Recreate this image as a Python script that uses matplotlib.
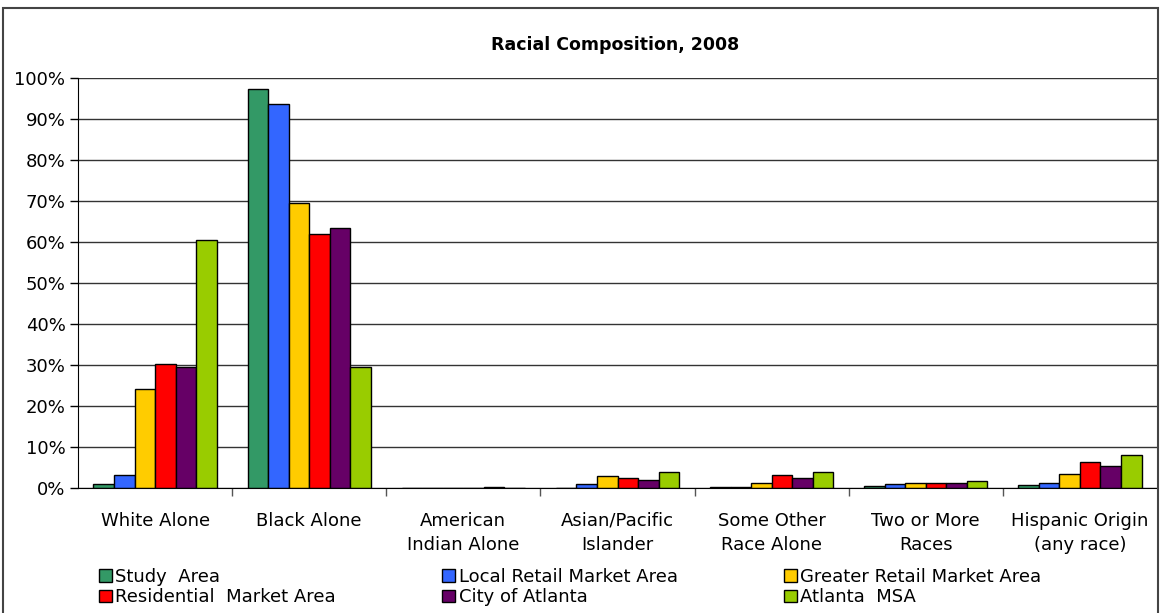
import numpy as np
import matplotlib.pyplot as plt
from matplotlib.patches import Rectangle
from matplotlib.ticker import FuncFormatter

plt.rcParams['font.family'] = ['DejaVu Sans']

# Categories and series (percent of population)
categories = ["White Alone", "Black Alone", "American\nIndian Alone", "Asian/Pacific\nIslander",
              "Some Other\nRace Alone", "Two or More\nRaces", "Hispanic Origin\n(any race)"]
series_names = ["Study  Area", "Local Retail Market Area", "Greater Retail Market Area",
                "Residential  Market Area", "City of Atlanta", "Atlanta  MSA"]
study_area = [1.0, 97.4, 0.1, 0.1, 0.3, 0.6, 0.9]
local_retail = [3.2, 93.8, 0.1, 1.0, 0.3, 1.0, 1.3]
greater_retail = [24.3, 69.6, 0.1, 2.9, 1.2, 1.2, 3.6]
residential = [30.2, 62.0, 0.1, 2.5, 3.2, 1.2, 6.4]
city_atlanta = [29.6, 63.6, 0.3, 2.0, 2.6, 1.2, 5.5]
atlanta_msa = [60.5, 29.5, 0.1, 3.9, 3.9, 1.9, 8.1]
colors = ["#339966", "#3366FF", "#FFCC00", "#FF0000", "#660066", "#99CC00"]

values = [study_area, local_retail, greater_retail, residential, city_atlanta, atlanta_msa]

fig = plt.figure(figsize=(11.7, 6.13), dpi=100)
ax = fig.add_axes([78 / 1170, 1 - 488.3 / 613, (1157 - 78) / 1170, (488.3 - 78.3) / 613])

x = np.arange(len(categories))
n = len(values)
w = 0.8 / n
handles = []
for i, (vals, c) in enumerate(zip(values, colors)):
    b = ax.bar(x - 0.4 + w * (i + 0.5), vals, w, color=c, edgecolor="black", linewidth=1, zorder=3)
    handles.append(b)

ax.set_xlim(-0.5, len(categories) - 0.5)
ax.set_ylim(0, 100)
ax.set_yticks(np.arange(0, 101, 10))
ax.yaxis.set_major_formatter(FuncFormatter(lambda v, p: f"{v:.0f}%"))
ax.grid(axis="y", color="#333333", linewidth=1, zorder=0)
ax.tick_params(axis="y", length=6, width=1, labelsize=13, pad=3, direction="out")

ax.set_xticks(x)
ax.set_xticklabels(categories, fontsize=13, linespacing=1.4)
ax.tick_params(axis="x", which="major", length=0, pad=17)
ax.set_xticks(np.arange(0.5, len(categories) - 1, 1), minor=True)
ax.tick_params(axis="x", which="minor", length=6, width=1, color="#555555")

for s in ["top", "right"]:
    ax.spines[s].set_visible(False)
ax.spines["left"].set_color("black")
ax.spines["bottom"].set_color("black")
ax.spines["bottom"].set_zorder(4)

fig.text(615 / 1170, 1 - 45 / 613, "Racial Composition, 2008", ha="center", va="center",
         fontsize=12.5, fontweight="bold")

# outer chart border
fig.patches.append(Rectangle((3 / 1170, -0.05), 1155 / 1170, 1.05 - 8 / 613,
                             transform=fig.transFigure, fill=False, edgecolor="#444444",
                             linewidth=1.5))

order = [0, 3, 1, 4, 2, 5]
fig.legend([handles[i] for i in order], [series_names[i] for i in order], ncol=3,
           loc="upper left", bbox_to_anchor=(99 / 1170, 1 - 568 / 613), frameon=False,
           fontsize=13, handlelength=0.7, handleheight=0.7, handletextpad=0.2,
           columnspacing=5.9, labelspacing=0.12, borderpad=0, borderaxespad=0)

fig.savefig("out.png", dpi=100)
